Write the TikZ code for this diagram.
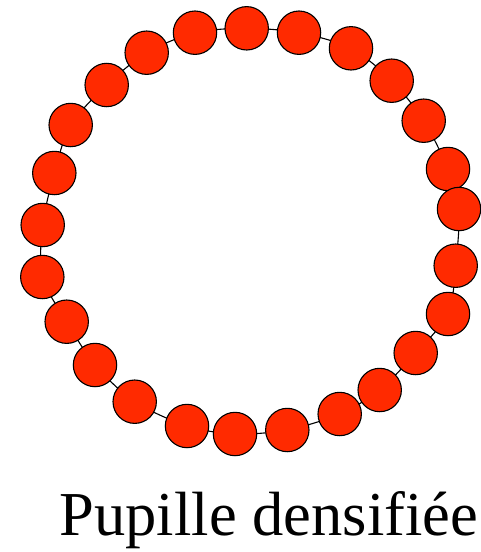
\documentclass[tikz,border=0pt]{standalone}
\usepackage{fontspec}
\setmainfont{Liberation Serif}
\newfontfamily\labelfont{Liberation Serif}
\definecolor{bead}{RGB}{255,42,0}
\begin{document}
\begin{tikzpicture}[x=1pt,y=-1pt,
  bead/.style={circle,draw=black,fill=bead,line width=1.1pt,minimum size=43.4pt,inner sep=0pt},
  ring/.style={draw=black,line width=1.1pt}]
\useasboundingbox (0,0) rectangle (481,552);
\foreach \n/\x/\y in {1/246.7/28.3,2/299/32.7,3/351/48.3,4/391.7/80.7,5/423.7/120.7,6/448/169,7/459/209,
  8/455.7/265.7,9/448/314,10/415.7/353,11/379.7/390,12/339.7/414,13/287.3/430,14/235/434,15/187/426,
  16/134.7/401.7,17/95/365,18/66.7/321.7,19/42.3/277,20/42.7/225,21/54.3/173,22/70.7/125,23/106.7/85,
  24/146.7/52.7,25/195/32.7}
  \coordinate (p\n) at (\x,\y);
\draw[ring] plot[smooth cycle,tension=0.5] coordinates {(p1) (p2) (p3) (p4) (p5) (p6) (p7) (p8) (p9) (p10) (p11) (p12) (p13) (p14) (p15) (p16) (p17) (p18) (p19) (p20) (p21) (p22) (p23) (p24) (p25)};
\foreach \n in {1,...,25}
  \node[bead] (c\n) at (p\n) {};
\node[anchor=base west,font=\labelfont\fontsize{62.5}{66}\selectfont,inner sep=0pt] (label) at (59.5,535) {Pupille densifiée};
\end{tikzpicture}
\end{document}
